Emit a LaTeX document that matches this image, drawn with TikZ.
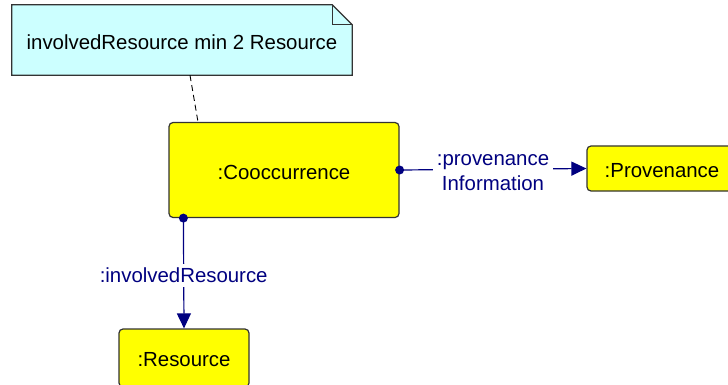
\documentclass[tikz,border=0pt]{standalone}
\usepackage{fontspec}
\setmainfont{Liberation Sans}
\usetikzlibrary{arrows.meta,calc}
\definecolor{navyc}{HTML}{000080}
\definecolor{notefill}{HTML}{CCFFFF}
\definecolor{boxfill}{HTML}{FFFF00}
\definecolor{edgec}{HTML}{333333}
\begin{document}
\begin{tikzpicture}[x=1pt,y=-1pt,
  every node/.style={font=\fontsize{20.4}{25}\selectfont},
  objbox/.style={draw=edgec, line width=1.2pt, fill=boxfill, rounded corners=4pt, inner sep=0pt},
  rel/.style={draw=navyc, line width=1.2pt, -{Triangle[length=15pt,width=14pt]}},
  rellabel/.style={fill=white, text=navyc, align=center, inner sep=4pt},
  dot/.style={fill=navyc}
]
\useasboundingbox (0,0) rectangle (728,385);
\clip (0,0) rectangle (728,385);
% note
\node[minimum width=340pt, minimum height=70pt, inner sep=0pt] (note) at (182,40) {};
\draw[draw=edgec, line width=1.2pt, fill=notefill]
  (note.north west) -- ([xshift=-20pt]note.north east) -- ([yshift=-20pt]note.north east)
  -- (note.south east) -- (note.south west) -- cycle;
\draw[draw=edgec, line width=0.9pt]
  ([xshift=-20pt]note.north east) -- ([xshift=-20pt,yshift=-20pt]note.north east) -- ([yshift=-20pt]note.north east);
\node at (182,42) {involvedResource min 2 Resource};
% objects
\node[objbox, minimum width=230pt, minimum height=95pt] (cooc) at (284,170) {};
\node at (284,172) {:Cooccurrence};
\node[objbox, minimum width=150pt, minimum height=45pt] (prov) at (662,168.5) {};
\node at (662,170.5) {:Provenance};
\node[objbox, minimum width=130pt, minimum height=58pt] (res) at (184,358) {};
\node at (184,360) {:Resource};
% note connector
\draw[draw=black, line width=0.9pt, dash pattern=on 6pt off 4pt]
  ([xshift=8pt]note.south) -- ([xshift=-86pt]cooc.north);
% relations
\coordinate (provstart) at (cooc.east);
\coordinate (resstart) at ([xshift=15pt]cooc.south west);
\draw[rel] (provstart) -- (prov.west) node[midway, rellabel, yshift=-3pt] {:provenance\\Information};
\draw[rel] (resstart) -- (res.north) node[midway, rellabel, yshift=-2pt] {:involvedResource};
\fill[dot] (provstart) circle (4.5pt);
\fill[dot] (resstart) circle (4.5pt);
\end{tikzpicture}
\end{document}
